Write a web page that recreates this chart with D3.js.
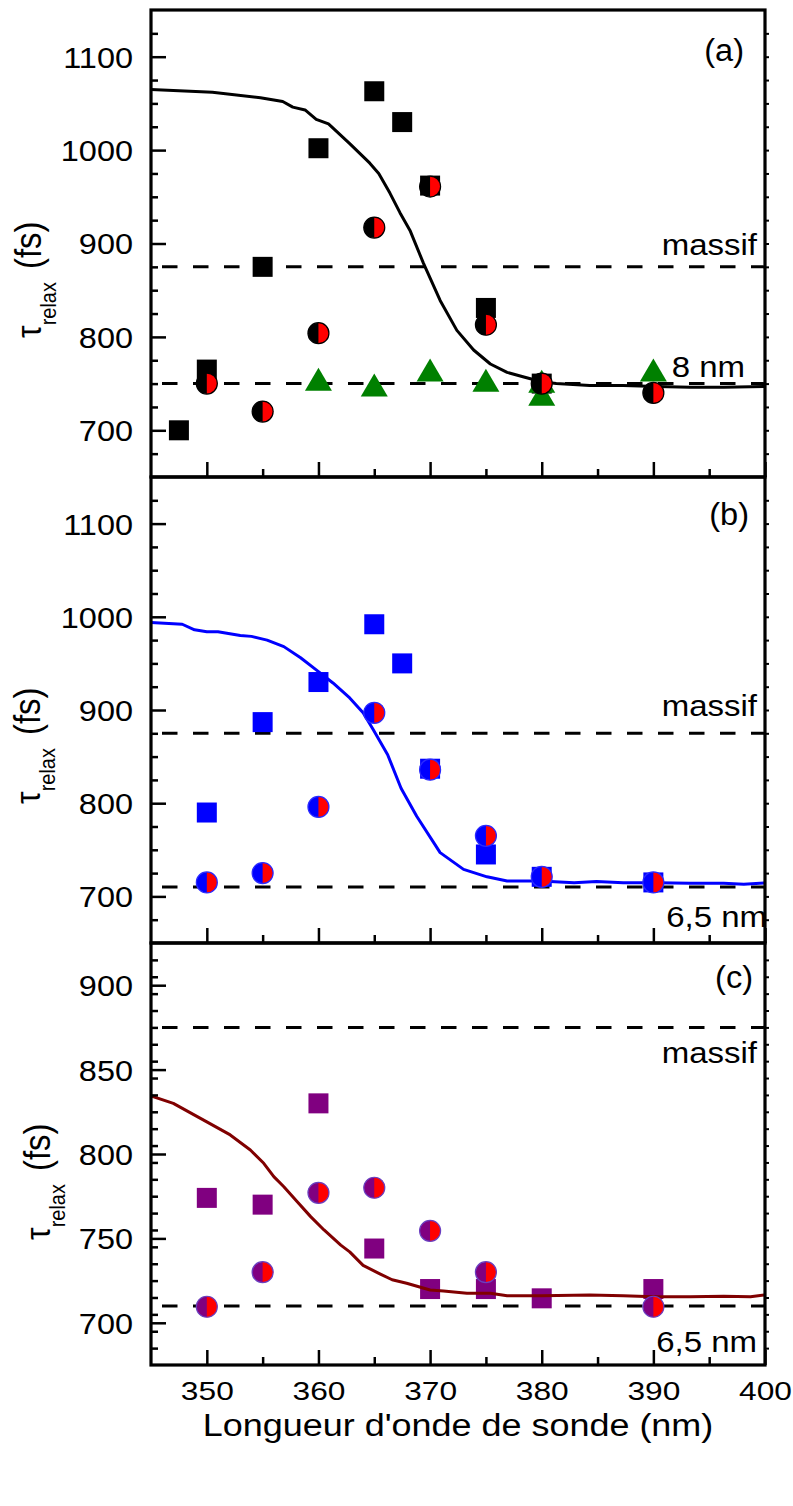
<!DOCTYPE html>
<html><head><meta charset="utf-8">
<script src="https://cdn.jsdelivr.net/npm/d3@7"></script>
<style>
body{margin:0;background:#fff}
svg{display:block;font-family:"Liberation Sans",Arial,Helvetica,sans-serif}
</style>
</head><body>
<svg id="chart" width="793" height="1506"></svg>
<script>
// ---------- shared axes ----------
const xDomain = [345, 400];
const xMajorTicks = [350, 360, 370, 380, 390, 400];
const xMinorTicks = [355, 365, 375, 385, 395];
const xTitle = "Longueur d'onde de sonde (nm)";

// ---------- panel (a) ----------
const aDomain = [650, 1150];
const aMajor = [700, 800, 900, 1000, 1100];
const aSqX = [347.5, 350, 355, 360, 365, 367.5, 370, 375, 380];
const aSqY = [700, 765, 875, 1002, 1063, 1030, 962, 831, 750];
const aTriX = [360, 365, 370, 375, 380, 380, 390];
const aTriY = [754, 748, 764, 753, 752, 738, 764];
const aCircX = [350, 355, 360, 365, 370, 375, 380, 390];
const aCircY = [750, 720, 804, 917, 961, 813, 750, 740];
const aFitX = [345, 350.5, 354.8, 356.8, 357.7, 358.8, 359.8, 360.9, 362.8, 364.6, 365.4, 366.4, 367.3, 368.2, 369.4, 370.9, 372.4, 373.9, 375.4, 376.9, 378.4, 380, 381.3, 384.3, 387.3, 390.3, 393.3, 396.3, 400];
const aFitY = [1065, 1062, 1056, 1052, 1046, 1043, 1033, 1028, 1007, 986, 975, 954, 933, 914, 879, 839, 807, 786, 771, 762, 757, 752, 750, 748, 748, 747, 746, 746, 747];
const aRefLines = [875, 750];
const aRefLabels = ["massif", "8 nm"];

// ---------- panel (b) ----------
const bDomain = [650, 1150];
const bMajor = [700, 800, 900, 1000, 1100];
const bSqX = [350, 355, 360, 365, 367.5, 370, 375, 380, 390];
const bSqY = [790, 887, 930, 992, 950, 837, 745, 721, 715];
const bCircX = [350, 355, 360, 365, 370, 375, 380, 390];
const bCircY = [715, 725, 796, 897, 836, 765, 721, 715];
const bFitX = [345, 347.8, 348.9, 350, 351, 353, 354, 355.4, 356.9, 358.4, 359.8, 361.3, 362.8, 364, 364.9, 366.2, 367.4, 368.8, 370.9, 373, 375.1, 376.9, 379.9, 382.9, 384.9, 387.3, 390.3, 393.3, 396.3, 398.1, 400];
const bFitY = [994, 992, 986, 984, 984, 980, 979, 975, 968, 956, 943, 929, 913, 897, 879, 852, 816, 786, 747, 729, 721, 716.5, 716.5, 714.7, 716, 714.7, 714.7, 714, 714, 713, 714.5];
const bRefLines = [875, 710];
const bRefLabels = ["massif", "6,5 nm"];

// ---------- panel (c) ----------
const cDomain = [675, 925];
const cMajor = [700, 750, 800, 850, 900];
const cSqX = [350, 355, 360, 365, 370, 375, 380, 390];
const cSqY = [774, 770, 830, 744, 720, 720, 714.5, 720];
const cCircX = [350, 355, 360, 365, 370, 375, 390];
const cCircY = [709.5, 730, 777, 780, 754.5, 730, 709.5];
const cFitX = [345, 347, 350, 352.1, 353.9, 355.1, 356, 356.9, 358.1, 359.3, 360.5, 362, 362.8, 364, 365.5, 366.6, 367.9, 370, 371.2, 373.3, 375.4, 376.9, 380, 384.3, 387.3, 390, 393.3, 396.3, 398.7, 400];
const cFitY = [834.4, 830, 819, 811.3, 802.4, 794.5, 786.6, 780.6, 771.7, 762.9, 755, 746, 742, 734, 729, 725.5, 723.4, 719.4, 718.8, 717.5, 717.5, 716, 716, 716.5, 716, 715.5, 715.5, 715.8, 715.5, 716.5];
const cRefLines = [875, 710];
const cRefLabels = ["massif", "6,5 nm"];

const panelNames = ["(a)", "(b)", "(c)"];

// ---------- layout / style ----------
const SX = 1.1;
const X0 = 151, X1 = 765;
const panels = [
  {name: panelNames[0], top: 10, bottom: 477, domain: aDomain, major: aMajor, minorStep: 25, color: "#000000", edge: "#000000", line: "#000000",
   sq: [aSqX, aSqY], tri: [aTriX, aTriY], circ: [aCircX, aCircY], fit: [aFitX, aFitY], refs: aRefLines, refLabels: aRefLabels,
   nameEnd: 744, nameBase: 61, labelPos: [[757, 255], [745, 377]], titleX: 41, titleY: 338, lineOnTop: false},
  {name: panelNames[1], top: 477, bottom: 943, domain: bDomain, major: bMajor, minorStep: 25, color: "#0000ff", edge: "#2a2aff", line: "#0000ff",
   sq: [bSqX, bSqY], tri: null, circ: [bCircX, bCircY], fit: [bFitX, bFitY], refs: bRefLines, refLabels: bRefLabels,
   nameEnd: 749, nameBase: 525, labelPos: [[757, 716], [767, 927]], titleX: 40, titleY: 804, lineOnTop: false},
  {name: panelNames[2], top: 943, bottom: 1365, domain: cDomain, major: cMajor, minorStep: 10, color: "#800080", edge: "#6a3fc0", line: "#800000",
   sq: [cSqX, cSqY], tri: null, circ: [cCircX, cCircY], fit: [cFitX, cFitY], refs: cRefLines, refLabels: cRefLabels,
   nameEnd: 753, nameBase: 988, labelPos: [[757, 1063], [757, 1352]], titleX: 50, titleY: 1240, lineOnTop: true}
];

const svg = d3.select("#chart");
const x = d3.scaleLinear().domain(xDomain).range([X0, X1]);

function stretchText(sel, size, sx) {
  sel.each(function () {
    const t = d3.select(this);
    const tx = +t.attr("x") || 0;
    t.attr("x", 0).attr("transform", `translate(${tx},0) scale(${sx},1)`)
     .style("font-size", size + "px").attr("fill", "#000");
  });
}

function addText(g, px, py, str, size, anchor, sx) {
  g.append("text").attr("transform", `translate(${px},${py}) scale(${sx},1)`)
    .attr("text-anchor", anchor).style("font-size", size + "px").attr("fill", "#000").text(str);
}

panels.forEach((p, i) => {
  const y = d3.scaleLinear().domain(p.domain).range([p.bottom, p.top]);
  const g = svg.append("g");
  const minor = d3.range(p.domain[0], p.domain[1] + 0.001, p.minorStep).filter(v => !p.major.includes(v) && v > p.domain[0] && v < p.domain[1]);
  const allY = d3.range(p.domain[0], p.domain[1] + 0.001, p.minorStep).filter(v => v > p.domain[0] && v < p.domain[1]);

  const clipId = "clip" + i;
  svg.append("clipPath").attr("id", clipId).append("rect")
    .attr("x", X0).attr("y", p.top).attr("width", X1 - X0).attr("height", p.bottom - p.top);
  const plot = g.append("g").attr("clip-path", `url(#${clipId})`);

  // reference dashed lines
  plot.selectAll("line.ref").data(p.refs).join("line").attr("class", "ref")
    .attr("x1", 162).attr("x2", X1).attr("y1", d => y(d)).attr("y2", d => y(d))
    .attr("stroke", "#000").attr("stroke-width", 3).attr("stroke-dasharray", "15.5,15.5");

  const line = d3.line().x(d => x(d[0])).y(d => y(d[1]));
  const fitData = p.fit[0].map((v, k) => [v, p.fit[1][k]]);
  const drawFit = () => plot.append("path").datum(fitData).attr("d", line)
    .attr("fill", "none").attr("stroke", p.line).attr("stroke-width", 3).attr("stroke-linejoin", "round");
  if (!p.lineOnTop) drawFit();

  // squares
  const sqData = p.sq[0].map((v, k) => [v, p.sq[1][k]]);
  plot.selectAll("rect.sq").data(sqData).join("rect").attr("class", "sq")
    .attr("x", d => x(d[0]) - 10).attr("y", d => y(d[1]) - 10).attr("width", 20).attr("height", 20)
    .attr("fill", p.color);

  // triangles
  if (p.tri) {
    const triData = p.tri[0].map((v, k) => [v, p.tri[1][k]]);
    plot.selectAll("path.tri").data(triData).join("path").attr("class", "tri")
      .attr("d", d => { const cx = x(d[0]), cy = y(d[1]); return `M${cx},${cy - 12}L${cx + 13.5},${cy + 11}L${cx - 13.5},${cy + 11}Z`; })
      .attr("fill", "#008000");
  }

  if (p.lineOnTop) drawFit();

  // half-filled circles
  const cData = p.circ[0].map((v, k) => [v, p.circ[1][k]]);
  const cg = plot.selectAll("g.circ").data(cData).join("g").attr("class", "circ")
    .attr("transform", d => `translate(${x(d[0])},${y(d[1])})`);
  const r = 10.5;
  cg.append("circle").attr("r", r).attr("fill", p.color);
  cg.append("path").attr("d", `M0,${-r}A${r},${r} 0 0 1 0,${r}Z`).attr("fill", "#ff0000");
  cg.append("circle").attr("r", r).attr("fill", "none").attr("stroke", p.edge).attr("stroke-width", 1.2);

  // left axis major
  const yAxis = d3.axisLeft(y).tickValues(p.major).tickSizeInner(-15).tickSizeOuter(0).tickPadding(18).tickFormat(d3.format("d"));
  const ga = g.append("g").attr("transform", `translate(${X0},0)`).call(yAxis);
  ga.select(".domain").remove();
  ga.selectAll(".tick line").attr("stroke", "#000").attr("stroke-width", 2.5);
  ga.selectAll(".tick text").attr("dy", "0.36em");
  stretchText(ga.selectAll(".tick text"), 29, 1.12);
  // left axis minor
  const gm = g.append("g").attr("transform", `translate(${X0},0)`)
    .call(d3.axisLeft(y).tickValues(minor).tickSizeInner(-7).tickSizeOuter(0).tickFormat(""));
  gm.select(".domain").remove();
  gm.selectAll(".tick line").attr("stroke", "#000").attr("stroke-width", 2.5);
  // right axis (small outward ticks)
  const gr = g.append("g").attr("transform", `translate(${X1},0)`)
    .call(d3.axisRight(y).tickValues(allY).tickSizeInner(4).tickSizeOuter(0).tickFormat(""));
  gr.select(".domain").remove();
  gr.selectAll(".tick line").attr("stroke", "#000").attr("stroke-width", 2);

  // bottom axis
  const xAxis = d3.axisBottom(x).tickValues(xMajorTicks).tickSizeInner(-15).tickSizeOuter(0).tickPadding(17)
    .tickFormat(i === 2 ? d3.format("d") : () => "");
  const gx = g.append("g").attr("transform", `translate(0,${p.bottom})`).call(xAxis);
  gx.select(".domain").remove();
  gx.selectAll(".tick line").attr("stroke", "#000").attr("stroke-width", 2.5);
  stretchText(gx.selectAll(".tick text"), 26, 1.22);
  const gxm = g.append("g").attr("transform", `translate(0,${p.bottom})`)
    .call(d3.axisBottom(x).tickValues(xMinorTicks).tickSizeInner(-8).tickSizeOuter(0).tickFormat(""));
  gxm.select(".domain").remove();
  gxm.selectAll(".tick line").attr("stroke", "#000").attr("stroke-width", 2.5);

  // frame
  g.append("rect").attr("x", X0).attr("y", p.top).attr("width", X1 - X0).attr("height", p.bottom - p.top)
    .attr("fill", "none").attr("stroke", "#000").attr("stroke-width", 3.2);

  // texts
  addText(g, p.nameEnd, p.nameBase, p.name, 31, "end", 1.05);
  p.refLabels.forEach((s, k) => addText(g, p.labelPos[k][0], p.labelPos[k][1], s, 30, "end", SX));

  // y title
  const t = g.append("text").attr("transform", `translate(${p.titleX},${p.titleY}) scale(1.12,1) rotate(-90)`)
    .attr("text-anchor", "start").attr("fill", "#000");
  t.append("tspan").style("font-size", "32px").text("τ");
  t.append("tspan").style("font-size", "20px").attr("dy", 13).text("relax");
  t.append("tspan").style("font-size", "33px").attr("dy", -13).attr("dx", 13).text("(fs)");
});

// x title
addText(svg, 458, 1436, xTitle, 31, "middle", 1.16);
</script>
</body></html>
